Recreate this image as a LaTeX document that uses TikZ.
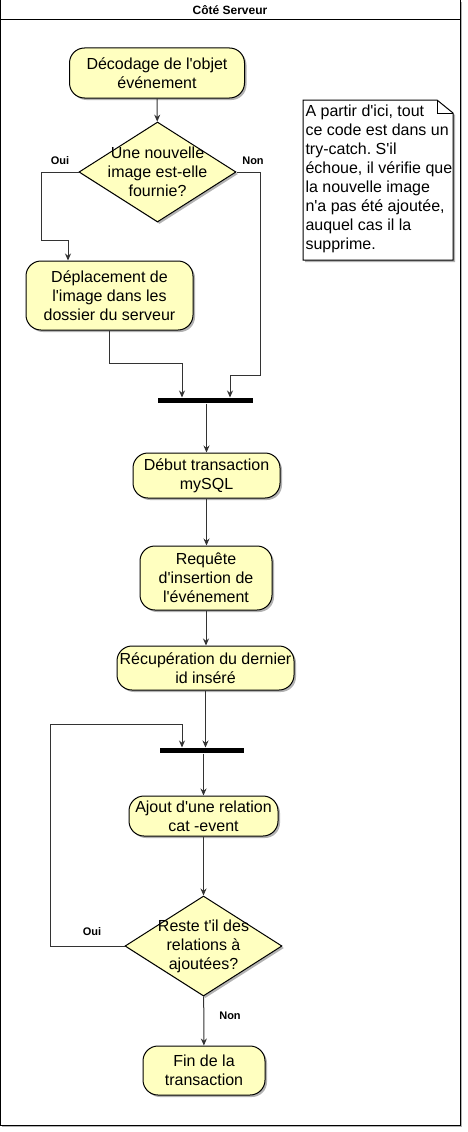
\documentclass[tikz,border=0pt]{standalone}
\usepackage{fontspec}
\setmainfont{Liberation Sans}
\usetikzlibrary{shapes.geometric,arrows.meta,shadows}
\definecolor{boxfill}{HTML}{FFFFC0}
\definecolor{linegray}{HTML}{333333}
\newcommand\ap{\textquotesingle}
\frenchspacing

\begin{document}
\begin{tikzpicture}[x=1pt,y=-1pt,line width=1pt,
  every node/.style={font=\fontsize{16}{19}\selectfont},
  shade3d/.style={drop shadow={shadow xshift=2pt,shadow yshift=-2pt,opacity=0.3,fill=black}},
  action/.style={draw,fill=boxfill,rounded corners=15pt,align=center,inner sep=1pt,shade3d},
  decision/.style={draw,fill=boxfill,diamond,inner sep=0pt,minimum width=\Dw,minimum height=\Dh,shade3d},
  bar/.style={fill=black,minimum width=#1,minimum height=5pt,inner sep=0pt},
  guard/.style={font=\bfseries\fontsize{11}{13}\selectfont},
  flow/.style={draw=linegray,-{Stealth[length=7pt,width=6pt]}}]

  \newcommand\Dw{157pt};
  \newcommand\Dh{100pt};

  \useasboundingbox (0,0) rectangle (467,1132);

  %% frame
  \draw[fill=white,shade3d] (0,0) rectangle (460,1125);
  \draw (0,20) -- (460,20);
  \node[font=\bfseries\fontsize{12}{14}\selectfont] (title) at (230,10) {Côté Serveur};

  %% note
  \draw[fill=white,shade3d] (303,100) -- (437,100) -- (453,113) -- (453,260) -- (303,260) -- cycle;
  \draw (437,100) -- (437,113) -- (453,113);
  \node[anchor=north west,align=left,inner sep=0pt] (memo) at (305,104.5)
  {A partir d\ap ici, tout\\ce code est dans un\\try-catch. S\ap il\\échoue, il vérifie que\\la nouvelle image\\n\ap a pas été ajoutée,\\auquel cas il la\\supprime.};

  \node[action,minimum width=175pt,minimum height=50pt] (decode) at (157,73)
  {Décodage de l\ap objet\\événement};
  \node[decision] (newimg) at (157.5,172) {};
  \node[align=center] (newimgtxt) at (newimg) {Une nouvelle\\image est-elle\\fournie?};
  \node[action,minimum width=167pt,minimum height=69pt] (move) at (109.5,295.5)
  {Déplacement de\\l\ap image dans les\\dossier du serveur};
  \node[bar=95pt] (join1) at (205.5,400.5) {};
  \node[action,minimum width=147pt,minimum height=45pt] (begin) at (206.5,475.5)
  {Début transaction\\mySQL};
  \node[action,minimum width=132pt,minimum height=64pt] (insert) at (206,578)
  {Requête\\d\ap insertion de\\l\ap événement};
  \node[action,minimum width=177pt,minimum height=44pt] (lastid) at (205.5,668)
  {Récupération du dernier\\id inséré};
  \node[bar=84pt] (join2) at (202,750.5) {};
  \node[action,minimum width=149pt,minimum height=40pt] (addrel) at (203.5,816)
  {Ajout d\ap une relation\\cat -event};
  \node[decision] (more) at (203.5,946) {};
  \node[align=center] (moretxt) at (more) {Reste t\ap il des\\relations à\\ajoutées?};
  \node[action,minimum width=122pt,minimum height=49pt] (finish) at (204,1070.5)
  {Fin de la\\transaction};

  \node[guard] (oui1) at (60,161) {Oui};
  \node[guard] (non1) at (253,161) {Non};
  \node[guard] (oui2) at (92,932) {Oui};
  \node[guard] (non2) at (230,1016) {Non};

  \coordinate (ouiturn) at (68,240);
  \coordinate (nonturn) at (230,375);
  \coordinate (moveturn) at (182,363);
  \coordinate (loopturn) at (182,724);

  \draw[flow] (decode) -- (newimg); %% decode -> newimg
  \draw[flow] (newimg.west) -| (41,240) -- (ouiturn) -- (ouiturn |- move.north); %% oui
  \draw[flow] (newimg.east) -| (260,375) -- (nonturn) -- (nonturn |- join1.north); %% non
  \draw[flow] (move.south) |- (moveturn) -- (moveturn |- join1.north);
  \draw[flow] (join1.south -| begin.north) -- (begin.north);
  \draw[flow] (begin.south) -- (begin.south |- insert.north);
  \draw[flow] (insert.south) -- (insert.south |- lastid.north);
  \draw[flow] (lastid.south) -- (lastid.south |- join2.north);
  \draw[flow] (join2.south -| addrel.north) -- (addrel.north);
  \draw[flow] (addrel) -- (more);
  \draw[flow] (more.west) -| (50,724) -- (loopturn) -- (loopturn |- join2.north); %% loop
  \draw[flow] (more) -- (finish);

\end{tikzpicture}
\end{document}
